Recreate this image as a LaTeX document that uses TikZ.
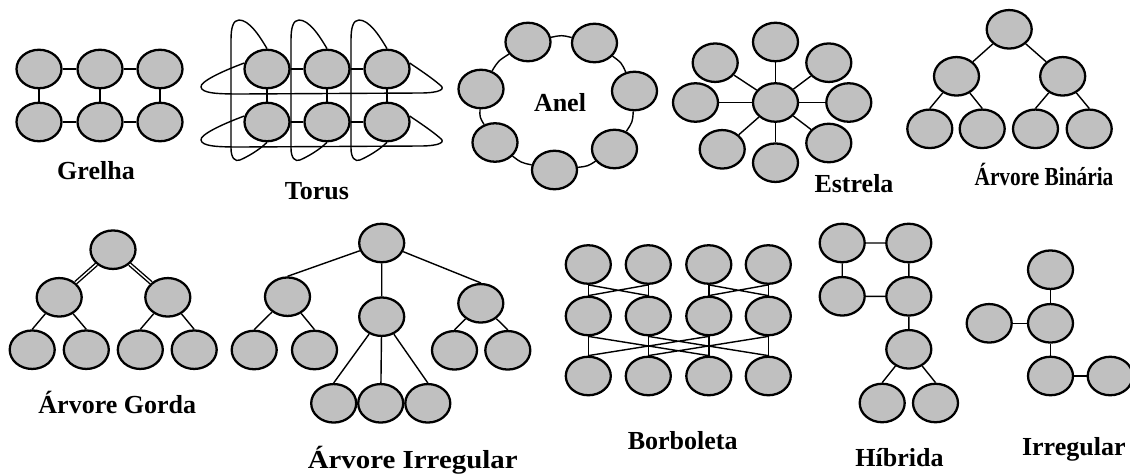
\documentclass[tikz,border=0pt]{standalone}
\usepackage{fontspec}
\usepackage{graphicx}
\setmainfont{Liberation Serif}
\usetikzlibrary{shapes.geometric}
\definecolor{nodegray}{RGB}{192,192,192}
\tikzset{
  nd/.style={ellipse,draw,line width=1.3pt,fill=nodegray,minimum width=0.9cm,minimum height=0.77cm,inner sep=0pt},
  lk/.style={line width=0.8pt},
  lbl/.style={anchor=base,font=\bfseries\fontsize{14.8}{17}\selectfont}
}

\begin{document}
\begin{tikzpicture}[x=0.02cm,y=-0.02cm]
\useasboundingbox (0,0) rectangle (1130,474);
% grelha e torus
\foreach \c/\x in {1/39,2/100,3/160}{\node[nd] (ga\c) at (\x,69) {};\node[nd] (gb\c) at (\x,122) {};}
\foreach \c/\x in {1/267,2/327,3/387}{\node[nd] (ta\c) at (\x,69) {};\node[nd] (tb\c) at (\x,122) {};}
\draw[lk](ga1)--(ga2)--(ga3)(gb1)--(gb2)--(gb3)(ga1)--(gb1)(ga2)--(gb2)(ga3)--(gb3);
\draw[lk](ta1)--(ta2)--(ta3)(tb1)--(tb2)--(tb3)(ta1)--(tb1)(ta2)--(tb2)(ta3)--(tb3);
\draw[lk](ta1.165) .. controls (220,72) and (200,82) .. (201,87) .. controls (202,93) and (215,94) .. (240,94) -- (420,93) .. controls (440,93) and (446,89) .. (440,85) .. controls (432,78) and (420,70) .. (ta3.15);
\draw[lk](tb1.165) .. controls (220,125) and (200,135) .. (201,140) .. controls (202,146) and (215,147) .. (240,147) -- (420,146) .. controls (440,146) and (446,142) .. (440,138) .. controls (432,131) and (420,123) .. (tb3.15);
\foreach \c/\x in {1/267,2/327,3/387}
  \draw[lk](ta\c.north) .. controls (\x-8,35) and (\x-18,20) .. (\x-28,20) .. controls (\x-34,20) and (\x-36,28) .. (\x-36,40) -- (\x-36,148) .. controls (\x-36,158) and (\x-32,162) .. (\x-27,160) .. controls (\x-18,156) and (\x-8,150) .. (tb\c.south);
\node[lbl] (lgrelha) at (96,179) {Grelha};
\node[lbl] (ltorus) at (317,199.5) {Torus};
% anel
\node[nd] (r1) at (528,42) {};
\node[nd] (r2) at (594.5,43) {};
\node[nd] (r3) at (634.5,91) {};
\node[nd] (r4) at (614.5,149) {};
\node[nd] (r5) at (554.5,170) {};
\node[nd] (r6) at (495,142.5) {};
\node[nd] (r7) at (481,89) {};
\draw[lk](r1) .. controls (561.7,35.1) .. (r2) .. controls (621.4,62.6) .. (r3) .. controls (632.6,121.9) .. (r4)
  .. controls (587.8,166.2) .. (r5) .. controls (520.8,162.5) .. (r6) .. controls (479.7,117.2) .. (r7) .. controls (498.2,60.9) .. (r1);
\node[lbl] (lanel) at (560,111.5) {Anel};
% estrela
\node[nd] (hub) at (775.5,102.5) {};
\foreach \n/\x/\y in {s1/775.5/42,s2/828.8/62.7,s3/848.8/102.5,s4/828.8/143,s5/775.5/162.7,s6/722.2/149.3,s7/695.5/102.5,s8/715.2/62.7}
  {\node[nd] (\n) at (\x,\y) {};\draw[lk](hub)--(\n);}
\node[lbl] (lestrela) at (854,192.5) {Estrela};
% arvore binaria
\node[nd] (b0) at (1009.2,29.3) {};
\node[nd] (b1) at (956.5,76.3) {};
\node[nd] (b2) at (1062.7,76.3) {};
\node[nd] (b11) at (929.8,128.8) {};
\node[nd] (b12) at (982.2,128.8) {};
\node[nd] (b21) at (1035.5,128.8) {};
\node[nd] (b22) at (1089.2,128.8) {};
\draw[lk](b0)--(b1)(b0)--(b2)(b1)--(b11.north)(b1)--(b12.north)(b2)--(b21.north)(b2)--(b22.north);
\node[lbl] (lbinaria) at (1044,185) {\scalebox{0.82}[1]{Árvore Binária}};
% arvore gorda
\node[nd] (f0) at (113,249.7) {};
\node[nd] (f1) at (59.2,297.3) {};
\node[nd] (f2) at (167.8,297.3) {};
\node[nd] (f11) at (32.2,349.7) {};
\node[nd] (f12) at (86.3,349.7) {};
\node[nd] (f21) at (140.3,349.7) {};
\node[nd] (f22) at (194.2,349.7) {};
\draw[lk,double,double distance=0.8pt](f0)--(f1)(f0)--(f2);
\draw[lk](f1)--(f11.north)(f1)--(f12.north)(f2)--(f21.north)(f2)--(f22.north);
\node[lbl] (lgorda) at (117.3,413.3) {Árvore Gorda};
% arvore irregular
\node[nd] (i0) at (381.7,243) {};
\node[nd] (i1) at (287.5,296.7) {};
\node[nd] (i2) at (381.7,316.7) {};
\node[nd] (i3) at (480.8,303.3) {};
\node[nd] (i11) at (254.2,350) {};
\node[nd] (i12) at (314.5,350) {};
\node[nd] (i21) at (333.7,403.3) {};
\node[nd] (i22) at (380.7,403.3) {};
\node[nd] (i23) at (427.8,403.3) {};
\node[nd] (i31) at (454.5,350.3) {};
\node[nd] (i32) at (507.8,350.3) {};
\draw[lk](i0)--(i1.north)(i0)--(i2)(i0)--(i3.north);
\draw[lk](i1)--(i11.north)(i1)--(i12.north)(i2)--(i21.north)(i2)--(i22)(i2)--(i23.north)(i3)--(i31.north)(i3)--(i32.north);
\node[lbl] (lirregarv) at (412.7,468.3) {\scalebox{1.11}[1]{Árvore Irregular}};
% borboleta
\foreach \c/\x in {1/588.3,2/648.3,3/708.8,4/768.3}
  {\node[nd] (p1\c) at (\x,264.5) {};\node[nd] (p2\c) at (\x,316) {};\node[nd] (p3\c) at (\x,376) {};}
\foreach \c in {1,...,4}\draw[lk](p1\c)--(p2\c)--(p3\c);
\draw[lk](p11.south)--(p22.north)(p12.south)--(p21.north)(p13.south)--(p24.north)(p14.south)--(p23.north);
\draw[lk](p21.south)--(p33.north)(p23.south)--(p31.north)(p22.south)--(p34.north)(p24.south)--(p32.north);
\node[lbl] (lborboleta) at (682.7,449) {Borboleta};
% hibrida
\node[nd] (h1) at (842.2,243) {};
\node[nd] (h2) at (908.8,243) {};
\node[nd] (h3) at (842.2,296.3) {};
\node[nd] (h4) at (908.8,296.3) {};
\node[nd] (h5) at (908.8,349.3) {};
\node[nd] (h6) at (882.2,403) {};
\node[nd] (h7) at (935.5,403) {};
\draw[lk](h1)--(h2)--(h4)--(h3)--(h1)(h4)--(h5)(h5)--(h6.north)(h5)--(h7.north);
\node[lbl] (lhibrida) at (899.5,466.7) {Híbrida};
% irregular
\node[nd] (q1) at (1050.5,269.7) {};
\node[nd] (q2) at (1050.5,323.3) {};
\node[nd] (q3) at (989.2,323.3) {};
\node[nd] (q4) at (1050.5,376) {};
\node[nd] (q5) at (1110.2,376) {};
\draw[lk](q1)--(q2)--(q4)--(q5)(q3)--(q2);
\node[lbl] (lirregular) at (1073.8,455) {Irregular};
\end{tikzpicture}
\end{document}
